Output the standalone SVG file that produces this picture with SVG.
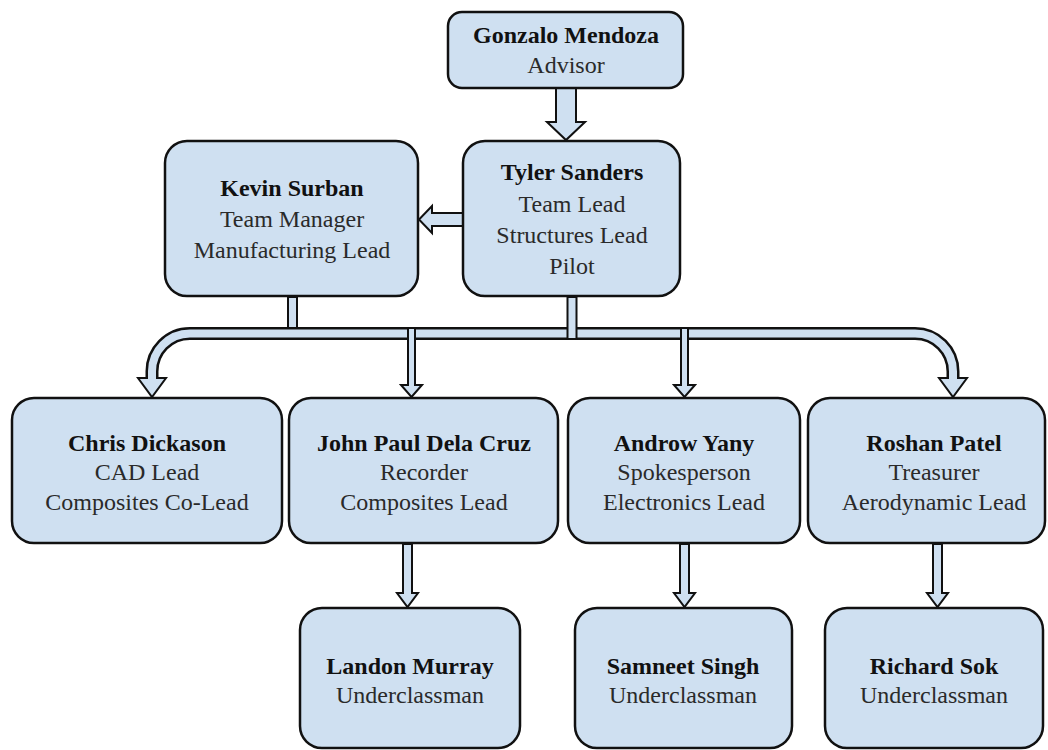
<svg xmlns="http://www.w3.org/2000/svg" width="1048" height="750" viewBox="0 0 1048 750">
<style>
.box{fill:#cfe0f1;stroke:#111;stroke-width:2.5}
.arr{fill:#cfe0f1;stroke:#111;stroke-width:2;stroke-linejoin:miter}
.t{font-family:"Liberation Serif","Times New Roman",serif;font-size:24px;text-anchor:middle;fill:#2a2a2a}
.n{font-weight:bold;fill:#111}
</style>
<rect width="1048" height="750" fill="#fff"/>
<g id="connectors">
  <path d="M566,88 V122" fill="none"/>
  <path class="arr" d="M556,88 L556,122 L547,122 L566,140 L585,122 L576,122 L576,88 Z"/>
  <path class="arr" d="M463,213 L432,213 L432,206 L419,219.5 L432,233 L432,226 L463,226 Z"/>
  <path d="M152,378 L152,372 A38,38 0 0 1 190,333.5 L915,333.5 A38,38 0 0 1 953,371.5 L953,378" fill="none" stroke="#111" stroke-width="13"/>
  <path d="M152,378 L152,372 A38,38 0 0 1 190,333.5 L915,333.5 A38,38 0 0 1 953,371.5 L953,378" fill="none" stroke="#cfe0f1" stroke-width="8"/>
  <path class="arr" d="M148,378 L138,378 L152,397 L166,378 L156,378"/>
  <path class="arr" d="M949,378 L939,378 L953,397 L967,378 L957,378"/>
  <rect class="arr" x="288" y="297" width="9" height="31"/>
  <rect class="arr" x="567.5" y="297" width="9" height="42"/>
  <path class="arr" d="M408,328 L408,385 L401,385 L411.5,397 L422,385 L415,385 L415,328 Z"/>
  <path class="arr" d="M681,328 L681,385 L674,385 L684.5,397 L695,385 L688,385 L688,328 Z"/>
  <path class="arr" d="M403,544 L403,593 L397,593 L407.5,607 L418,593 L412,593 L412,544 Z"/>
  <path class="arr" d="M680,544 L680,593 L674,593 L684.5,607 L695,593 L689,593 L689,544 Z"/>
  <path class="arr" d="M933,544 L933,593 L927,593 L937.5,607 L948,593 L942,593 L942,544 Z"/>
</g>
<g id="gonzalo">
  <rect class="box" x="448" y="12" width="235" height="76" rx="14"/>
  <text class="t n" x="566" y="43">Gonzalo Mendoza</text>
  <text class="t" x="566" y="73">Advisor</text>
</g>
<g id="tyler">
  <rect class="box" x="463" y="141" width="217" height="155" rx="22"/>
  <text class="t n" x="572" y="180">Tyler Sanders</text>
  <text class="t" x="572" y="212">Team Lead</text>
  <text class="t" x="572" y="243">Structures Lead</text>
  <text class="t" x="572" y="274">Pilot</text>
</g>
<g id="kevin">
  <rect class="box" x="165" y="141" width="253" height="155" rx="22"/>
  <text class="t n" x="292" y="196">Kevin Surban</text>
  <text class="t" x="292" y="227">Team Manager</text>
  <text class="t" x="292" y="258">Manufacturing Lead</text>
</g>
<g id="chris">
  <rect class="box" x="12" y="398" width="270" height="145" rx="22"/>
  <text class="t n" x="147" y="451">Chris Dickason</text>
  <text class="t" x="147" y="480">CAD Lead</text>
  <text class="t" x="147" y="510">Composites Co-Lead</text>
</g>
<g id="john">
  <rect class="box" x="289" y="398" width="269" height="145" rx="22"/>
  <text class="t n" x="424" y="451">John Paul Dela Cruz</text>
  <text class="t" x="424" y="480">Recorder</text>
  <text class="t" x="424" y="510">Composites Lead</text>
</g>
<g id="androw">
  <rect class="box" x="568" y="398" width="232" height="145" rx="22"/>
  <text class="t n" x="684" y="451">Androw Yany</text>
  <text class="t" x="684" y="480">Spokesperson</text>
  <text class="t" x="684" y="510">Electronics Lead</text>
</g>
<g id="roshan">
  <rect class="box" x="808" y="398" width="237" height="145" rx="22"/>
  <text class="t n" x="934" y="451">Roshan Patel</text>
  <text class="t" x="934" y="480">Treasurer</text>
  <text class="t" x="934" y="510">Aerodynamic Lead</text>
</g>
<g id="landon">
  <rect class="box" x="300" y="608" width="220" height="140" rx="22"/>
  <text class="t n" x="410" y="674">Landon Murray</text>
  <text class="t" x="410" y="703">Underclassman</text>
</g>
<g id="samneet">
  <rect class="box" x="575" y="608" width="217" height="140" rx="22"/>
  <text class="t n" x="683" y="674">Samneet Singh</text>
  <text class="t" x="683" y="703">Underclassman</text>
</g>
<g id="richard">
  <rect class="box" x="825" y="608" width="218" height="140" rx="22"/>
  <text class="t n" x="934" y="674">Richard Sok</text>
  <text class="t" x="934" y="703">Underclassman</text>
</g>
</svg>
